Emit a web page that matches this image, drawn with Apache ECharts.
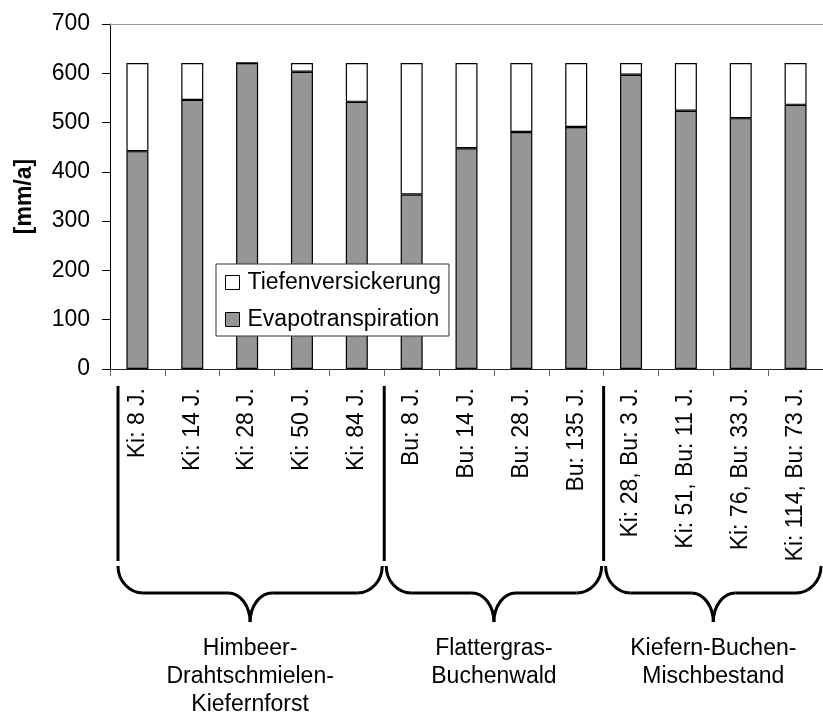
<!DOCTYPE html>
<html>
<head>
<meta charset="utf-8">
<script src="https://cdn.jsdelivr.net/npm/echarts@6/dist/echarts.min.js"></script>
<style>
html,body{margin:0;padding:0;background:#fff;}
#c{width:823px;height:713px;}
</style>
</head>
<body>
<div id="c"></div>
<script>
// ---- data ----
var categories = ['Ki: 8 J.', 'Ki: 14 J.', 'Ki: 28 J.', 'Ki: 50 J.', 'Ki: 84 J.',
  'Bu: 8 J.', 'Bu: 14 J.', 'Bu: 28 J.', 'Bu: 135 J.',
  'Ki: 28, Bu: 3 J.', 'Ki: 51, Bu: 11 J.', 'Ki: 76, Bu: 33 J.', 'Ki: 114, Bu: 73 J.'];
var evapotranspiration = [442, 546, 621, 603, 542, 354, 448, 481, 491, 597, 524, 509, 536];
var tiefenversickerung = [179, 75, 0, 18, 79, 267, 173, 140, 130, 24, 97, 112, 85];
var groupNames = ['Himbeer-\nDrahtschmielen-\nKiefernforst', 'Flattergras-\nBuchenwald', 'Kiefern-Buchen-\nMischbestand'];
var groupStart = [0, 5, 9];
var groupEnd = [4, 8, 12];
var yTicks = [0, 100, 200, 300, 400, 500, 600, 700];

var FONT = "'Liberation Sans', Arial, Helvetica, sans-serif";
var chart = echarts.init(document.getElementById('c'), null, {renderer: 'canvas'});

var option = {
  animation: false,
  backgroundColor: '#fff',
  textStyle: {fontFamily: FONT, color: '#000'},
  grid: {left: 110, top: 24, width: 722, height: 345, containLabel: false},
  legend: {
    orient: 'vertical',
    left: 216, top: 264,
    padding: [7, 8, 5, 9],
    itemGap: 14,
    itemWidth: 14, itemHeight: 14,
    icon: 'rect',
    borderColor: '#333', borderWidth: 1,
    backgroundColor: '#fff',
    data: ['Tiefenversickerung', 'Evapotranspiration'],
    itemStyle: {borderColor: '#000', borderWidth: 1},
    textStyle: {fontFamily: FONT, fontSize: 23, color: '#000', padding: [0, 0, 0, 3]}
  },
  xAxis: [{
    type: 'category',
    data: categories,
    position: 'bottom',
    axisLine: {show: true, lineStyle: {color: '#222', width: 1}},
    axisTick: {show: true, length: 7, lineStyle: {color: '#666', width: 1}},
    axisLabel: {interval: 0, rotate: 90, margin: 19, fontSize: 23, color: '#000', fontFamily: FONT}
  }, {
    type: 'category',
    data: categories,
    position: 'top',
    axisLine: {show: true, lineStyle: {color: '#999', width: 1}},
    axisTick: {show: false},
    axisLabel: {show: false}
  }],
  yAxis: {
    type: 'value',
    min: yTicks[0], max: yTicks[yTicks.length - 1], interval: 100,
    name: '[mm/a]',
    nameLocation: 'middle',
    nameGap: 74,
    nameTextStyle: {fontSize: 23, fontWeight: 'bold', color: '#000', fontFamily: FONT},
    axisLine: {show: true, lineStyle: {color: '#000', width: 1}},
    axisTick: {show: true, length: 8, lineStyle: {color: '#000'}},
    axisLabel: {fontSize: 23, margin: 20, color: '#000', fontFamily: FONT},
    splitLine: {show: false}
  },
  series: [{
    name: 'Evapotranspiration',
    type: 'bar',
    stack: 'total',
    barWidth: 22,
    data: evapotranspiration,
    itemStyle: {color: '#969696', borderColor: '#000', borderWidth: 1.2}
  }, {
    name: 'Tiefenversickerung',
    type: 'bar',
    stack: 'total',
    barWidth: 22,
    data: tiefenversickerung,
    itemStyle: {color: '#ffffff', borderColor: '#000', borderWidth: 1.2}
  }]
};
chart.setOption(option);

// ---- annotation: group separators, braces and group names ----
var c0 = chart.convertToPixel({xAxisIndex: 0}, 0);
var c1 = chart.convertToPixel({xAxisIndex: 0}, 1);
var band = c1 - c0;
function boundary(i) { return chart.convertToPixel({xAxisIndex: 0}, i) - band / 2; }
var W = 823;
var sepTop = 386, sepBottom = 561;
var bTop = 566, bMid = 593, bTip = 622;
var rEnd = 25, rTip = 22;
var els = [];
var stroke = {stroke: '#000', lineWidth: 3, fill: null};
for (var g = 0; g < groupStart.length; g++) {
  var left = boundary(groupStart[g]);
  var sepX = g === 0 ? left + 8 : left;
  els.push({type: 'line', shape: {x1: sepX, y1: sepTop, x2: sepX, y2: sepBottom}, style: stroke, silent: true});
  var x0 = g === 0 ? left + 8 : left + 2;
  var x1 = Math.min(boundary(groupEnd[g] + 1) - 2, W - 2);
  var cx = (x0 + x1) / 2;
  els.push({type: 'bezierCurve', shape: {x1: x0, y1: bTop, cpx1: x0, cpy1: bTop + (bMid - bTop) * 0.55, cpx2: x0 + rEnd * 0.45, cpy2: bMid, x2: x0 + rEnd, y2: bMid}, style: stroke, silent: true});
  els.push({type: 'line', shape: {x1: x0 + rEnd, y1: bMid, x2: cx - rTip, y2: bMid}, style: stroke, silent: true});
  els.push({type: 'bezierCurve', shape: {x1: cx - rTip, y1: bMid, cpx1: cx - rTip * 0.45, cpy1: bMid, cpx2: cx, cpy2: bMid + (bTip - bMid) * 0.45, x2: cx, y2: bTip}, style: stroke, silent: true});
  els.push({type: 'bezierCurve', shape: {x1: cx + rTip, y1: bMid, cpx1: cx + rTip * 0.45, cpy1: bMid, cpx2: cx, cpy2: bMid + (bTip - bMid) * 0.45, x2: cx, y2: bTip}, style: stroke, silent: true});
  els.push({type: 'line', shape: {x1: x1 - rEnd, y1: bMid, x2: cx + rTip, y2: bMid}, style: stroke, silent: true});
  els.push({type: 'bezierCurve', shape: {x1: x1, y1: bTop, cpx1: x1, cpy1: bTop + (bMid - bTop) * 0.55, cpx2: x1 - rEnd * 0.45, cpy2: bMid, x2: x1 - rEnd, y2: bMid}, style: stroke, silent: true});
  els.push({type: 'text', x: cx, y: 635, silent: true,
    style: {text: groupNames[g], fontSize: 23, fontFamily: FONT, fill: '#000', align: 'center', verticalAlign: 'top', lineHeight: 28}});
}
chart.setOption({graphic: {elements: els}});
</script>
</body>
</html>
